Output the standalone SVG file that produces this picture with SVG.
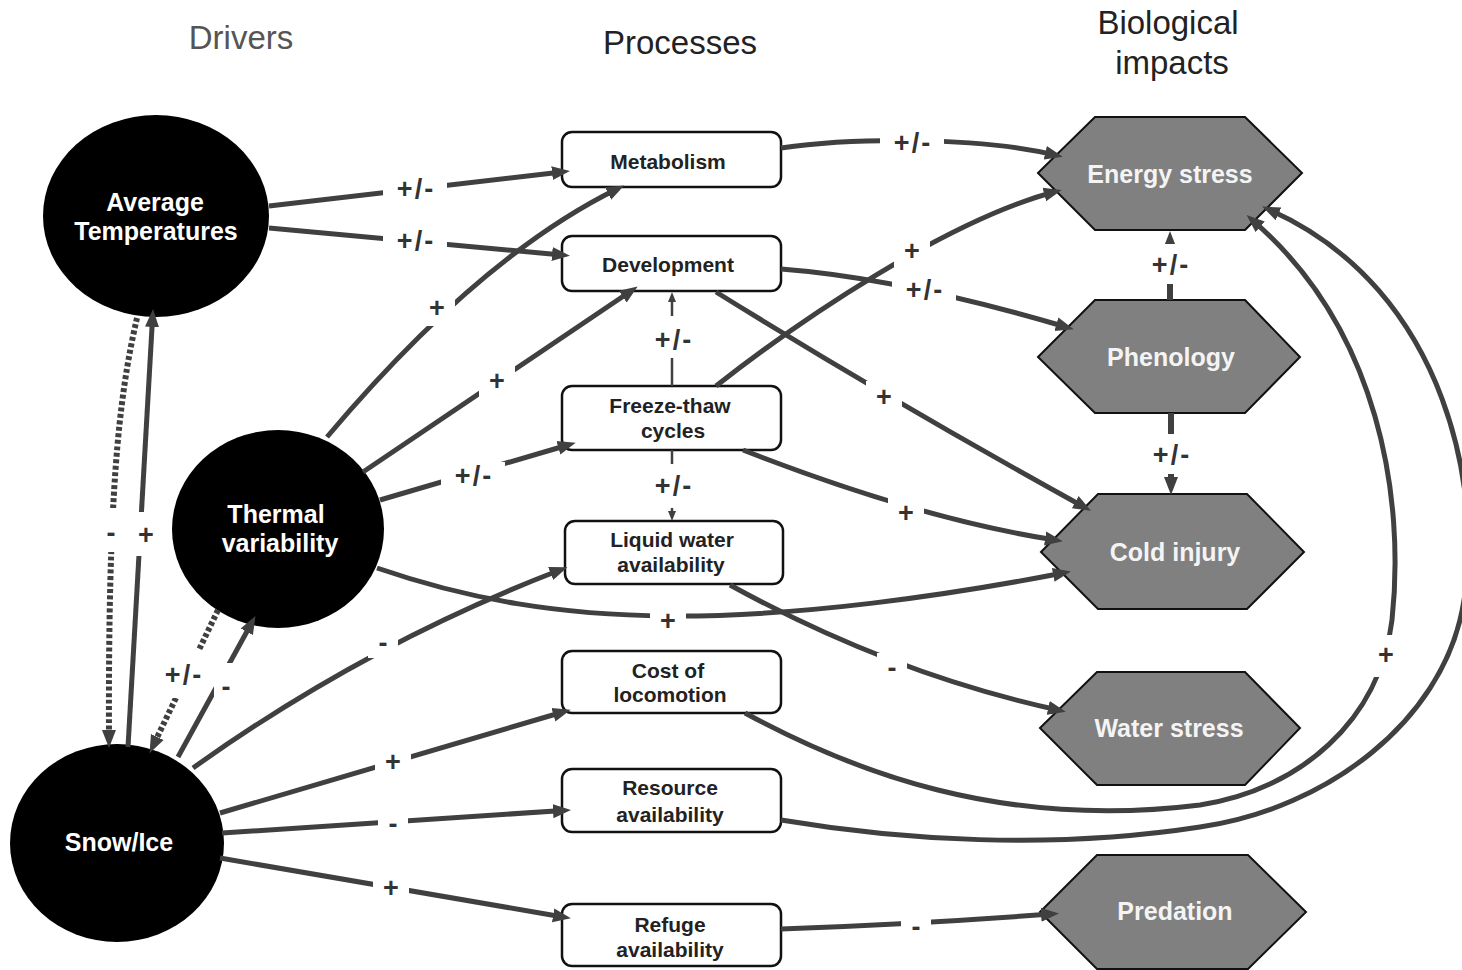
<svg xmlns="http://www.w3.org/2000/svg" width="1462" height="970" viewBox="0 0 1462 970">
<defs>
<style>
.hdr{font-family:"Liberation Sans",Arial,sans-serif;font-size:33px;text-anchor:middle}
.drv{fill:#000}
.drvt{font-family:"Liberation Sans",Arial,sans-serif;font-size:25px;font-weight:bold;fill:#fff;text-anchor:middle}
.box{fill:#fff;stroke:#111;stroke-width:2.5}
.boxt{font-family:"Liberation Sans",Arial,sans-serif;font-size:21px;font-weight:bold;fill:#222;text-anchor:middle}
.hex{fill:#808080;stroke:#111;stroke-width:2}
.hext{font-family:"Liberation Sans",Arial,sans-serif;font-size:25px;font-weight:bold;fill:#f4f4f4;text-anchor:middle}
.ln{fill:none;stroke:#404040;stroke-width:5;marker-end:url(#ah)}
.thin{fill:none;stroke:#404040;stroke-width:2.5;marker-end:url(#ahs)}
.dot{fill:none;stroke:#404040;stroke-width:6;stroke-dasharray:4 2.5;marker-end:url(#ah)}
.thick{fill:none;stroke:#404040;stroke-width:6;marker-end:url(#ah)}
.lb{fill:#fff}
.lt{font-family:"Liberation Sans",Arial,sans-serif;font-size:27px;font-weight:bold;fill:#333;text-anchor:middle;letter-spacing:2px}
</style>
<marker id="ah" markerUnits="userSpaceOnUse" markerWidth="20" markerHeight="16" refX="10" refY="8" orient="auto">
<path d="M0,1 L18,8 L0,15 z" fill="#404040"/>
</marker>
<marker id="ahs" markerUnits="userSpaceOnUse" markerWidth="11" markerHeight="9" refX="5" refY="4.5" orient="auto">
<path d="M0,0.5 L10,4.5 L0,8.5 z" fill="#404040"/>
</marker>
</defs>
<rect width="1462" height="970" fill="#fff"/>

<g id="headers">
<text class="hdr" x="241" y="49" fill="#555">Drivers</text>
<text class="hdr" x="680" y="54" fill="#222">Processes</text>
<text class="hdr" x="1168" y="34" fill="#222">Biological</text>
<text class="hdr" x="1172" y="74" fill="#222">impacts</text>
</g>

<g id="node-avg-temp">
<ellipse class="drv" cx="156" cy="216" rx="113" ry="101"/>
<text class="drvt" x="155" y="211">Average</text>
<text class="drvt" x="156" y="240">Temperatures</text>
</g>
<g id="node-thermal">
<ellipse class="drv" cx="278" cy="529" rx="106" ry="99"/>
<text class="drvt" x="276" y="523">Thermal</text>
<text class="drvt" x="280" y="552">variability</text>
</g>
<g id="node-snow">
<ellipse class="drv" cx="117" cy="843" rx="107" ry="99"/>
<text class="drvt" x="119" y="851">Snow/Ice</text>
</g>

<g id="node-metabolism">
<rect class="box" x="562" y="132" width="219" height="55" rx="10"/>
<text class="boxt" x="668" y="169">Metabolism</text>
</g>
<g id="node-development">
<rect class="box" x="562" y="236" width="219" height="55" rx="10"/>
<text class="boxt" x="668" y="272">Development</text>
</g>
<g id="node-freeze">
<rect class="box" x="562" y="386" width="219" height="64" rx="10"/>
<text class="boxt" x="670" y="413">Freeze-thaw</text>
<text class="boxt" x="673" y="438">cycles</text>
</g>
<g id="node-liquid">
<rect class="box" x="565" y="521" width="218" height="63" rx="10"/>
<text class="boxt" x="672" y="547">Liquid water</text>
<text class="boxt" x="671" y="572">availability</text>
</g>
<g id="node-cost">
<rect class="box" x="562" y="651" width="219" height="62" rx="10"/>
<text class="boxt" x="668" y="678">Cost of</text>
<text class="boxt" x="670" y="702">locomotion</text>
</g>
<g id="node-resource">
<rect class="box" x="562" y="769" width="219" height="63" rx="10"/>
<text class="boxt" x="670" y="795">Resource</text>
<text class="boxt" x="670" y="822">availability</text>
</g>
<g id="node-refuge">
<rect class="box" x="562" y="904" width="219" height="62" rx="10"/>
<text class="boxt" x="670" y="932">Refuge</text>
<text class="boxt" x="670" y="957">availability</text>
</g>

<g id="node-energy">
<polygon class="hex" points="1038,173 1095,117 1245,117 1302,173 1245,230 1095,230"/>
<text class="hext" x="1170" y="183">Energy stress</text>
</g>
<g id="node-phenology">
<polygon class="hex" points="1038,357 1095,300 1245,300 1300,357 1245,413 1095,413"/>
<text class="hext" x="1171" y="366">Phenology</text>
</g>
<g id="node-cold">
<polygon class="hex" points="1041,552 1098,494 1247,494 1304,552 1247,609 1098,609"/>
<text class="hext" x="1175" y="561">Cold injury</text>
</g>
<g id="node-water">
<polygon class="hex" points="1040,728 1097,672 1245,672 1300,728 1245,785 1097,785"/>
<text class="hext" x="1169" y="737">Water stress</text>
</g>
<g id="node-predation">
<polygon class="hex" points="1040,912 1097,855 1248,855 1306,912 1248,969 1097,969"/>
<text class="hext" x="1175" y="920">Predation</text>
</g>

<g id="connectors">
<path class="ln" d="M269,206 L562,172"/>
<path class="ln" d="M269,228 L562,255"/>
<path class="ln" d="M327,437 Q479,257 617,189"/>
<path class="ln" d="M363,472 L631,291"/>
<path class="ln" d="M380,500 L568,445"/>
<path class="ln" d="M377,568 C470,600 560,615 668,616 C800,617 950,595 1063,573"/>
<path class="ln" d="M128,747 L152.6,317"/>
<path class="dot" d="M137,318 C118,400 108,500 109,740"/>
<path class="dot" d="M218,610 L153,746"/>
<path class="ln" d="M178,757 L251.6,623"/>
<path class="ln" d="M193,768 Q365,645 560,570"/>
<path class="ln" d="M220,813 L563,712"/>
<path class="ln" d="M222,833 L563,810.5"/>
<path class="ln" d="M220,858 L563,917"/>
<path class="ln" d="M781,148 C850,138 975,136 1055,155"/>
<path class="ln" d="M781,269 Q900,278 1066,327"/>
<path class="ln" d="M716,292 Q890,400 1084,507"/>
<path class="ln" d="M716,386 C800,320 946,221 1054,192"/>
<path class="thin" d="M672,386 L672,297"/>
<path class="thin" d="M672,450 L672,516"/>
<path class="ln" d="M743,450 Q920,519 1055,540"/>
<path class="ln" d="M730,585 Q892,674 1058,710"/>
<path class="ln" d="M745,713 C850,770 1000,830 1200,805 C1300,790 1380,720 1392,620 C1405,500 1380,330 1252.6,220.3"/>
<path class="ln" d="M781,820 C900,840 1050,850 1200,827 C1330,808 1440,720 1462,611 C1485,500 1450,290 1269.4,209.8"/>
<path class="thick" d="M1170,300 L1170,239"/>
<path class="thick" d="M1171,413 L1171,487"/>
<path class="ln" d="M781,929 Q920,924 1051,914"/>
</g>

<g id="labels">
<rect class="lb" x="383" y="175" width="64" height="28"/><text class="lt" x="416" y="198">+/-</text>
<rect class="lb" x="383" y="227" width="64" height="28"/><text class="lt" x="416" y="250">+/-</text>
<rect class="lb" x="419" y="290" width="36" height="36"/><text class="lt" x="438" y="317">+</text>
<rect class="lb" x="479" y="365" width="36" height="32"/><text class="lt" x="498" y="390">+</text>
<rect class="lb" x="441" y="462" width="64" height="28"/><text class="lt" x="474" y="485">+/-</text>
<rect class="lb" x="650" y="605" width="36" height="32"/><text class="lt" x="669" y="630">+</text>
<rect class="lb" x="134" y="512" width="24" height="44"/><text class="lt" x="147" y="544">+</text>
<rect class="lb" x="100" y="508" width="22" height="44"/><text class="lt" x="112" y="542">-</text>
<rect class="lb" x="159" y="650" width="48" height="48"/><text class="lt" x="184" y="684">+/-</text>
<rect class="lb" x="214" y="663" width="22" height="42"/><text class="lt" x="227" y="696">-</text>
<rect class="lb" x="368" y="628" width="30" height="30"/><text class="lt" x="384" y="652">-</text>
<rect class="lb" x="375" y="748" width="36" height="28"/><text class="lt" x="394" y="771">+</text>
<rect class="lb" x="378" y="810" width="30" height="28"/><text class="lt" x="394" y="833">-</text>
<rect class="lb" x="373" y="874" width="36" height="28"/><text class="lt" x="392" y="897">+</text>
<rect class="lb" x="880" y="128" width="64" height="30"/><text class="lt" x="913" y="152">+/-</text>
<rect class="lb" x="892" y="275" width="64" height="30"/><text class="lt" x="925" y="299">+/-</text>
<rect class="lb" x="866" y="381" width="36" height="32"/><text class="lt" x="885" y="406">+</text>
<rect class="lb" x="894" y="235" width="36" height="32"/><text class="lt" x="913" y="260">+</text>
<rect class="lb" x="649" y="316" width="48" height="42"/><text class="lt" x="674" y="349">+/-</text>
<rect class="lb" x="649" y="464" width="48" height="44"/><text class="lt" x="674" y="495">+/-</text>
<rect class="lb" x="888" y="497" width="36" height="32"/><text class="lt" x="907" y="522">+</text>
<rect class="lb" x="877" y="653" width="30" height="30"/><text class="lt" x="893" y="677">-</text>
<rect class="lb" x="1372" y="635" width="28" height="42"/><text class="lt" x="1387" y="664">+</text>
<rect class="lb" x="1146" y="244" width="48" height="40"/><text class="lt" x="1171" y="274">+/-</text>
<rect class="lb" x="1147" y="434" width="48" height="40"/><text class="lt" x="1172" y="464">+/-</text>
<rect class="lb" x="901" y="912" width="30" height="30"/><text class="lt" x="917" y="936">-</text>
</g>
</svg>
